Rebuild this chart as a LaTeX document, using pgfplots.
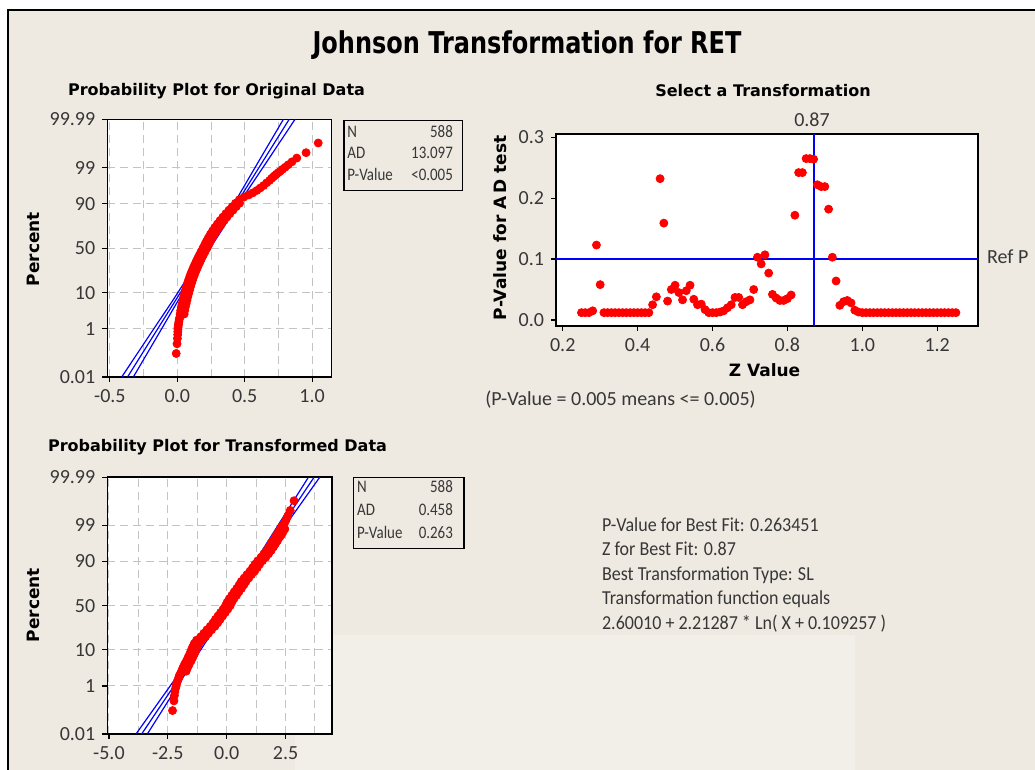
\documentclass[border=0pt]{standalone}
\usepackage{pgfplots}
\pgfplotsset{compat=1.18}
\usepackage{fontspec}
\setmainfont{Carlito}
\newfontfamily\djv{DejaVu Sans}
\newfontfamily\djtitle[FakeStretch=0.8]{DejaVu Sans}
\newfontfamily\cbody[FakeStretch=0.91]{Carlito}
\newfontfamily\cbox[FakeStretch=0.85]{Carlito}
\definecolor{bg}{RGB}{238,234,225}
\definecolor{gridc}{RGB}{195,195,195}
\definecolor{tl}{RGB}{55,55,55}
\definecolor{mred}{RGB}{255,0,0}
\definecolor{mblue}{RGB}{0,0,255}
\pgfplotsset{
 mp/.style={scale only axis, anchor=south west,
   axis line style={black,line width=0.8pt},
   axis background/.style={fill=white},
   tick align=outside, xtick pos=bottom, ytick pos=left,
   major tick length=2.5pt, minor tick length=0pt,
   tick style={black,line width=0.6pt},
   tick label style={font=\fontsize{10}{12}\selectfont, color=tl},
   /pgf/number format/assume math mode=true,
   grid style={gridc, line width=0.5pt, dash pattern=on 4pt off 2.5pt},
   minor grid style={gridc, line width=0.5pt, dash pattern=on 4pt off 2.5pt},
 },
 redpts/.style={only marks, mark=*, mark size=2pt, color=mred, mark options={fill=mred, draw=mred}},
 blu/.style={color=mblue, line width=0.6pt},
}
\begin{document}
\begin{tikzpicture}
\useasboundingbox (0,0) rectangle (517.5pt,385pt);
\fill[white] (0,0) rectangle (517.5pt,385pt);
\fill[bg] (4pt,0) rectangle (517.5pt,380pt);
\fill[white,opacity=0.25] (147.5pt,0) rectangle (427.5pt,67.5pt);
\draw[black,line width=1pt] (4pt,0) -- (4pt,380pt) -- (517.5pt,380pt);

% ---------- top-left: original data ----------
\begin{axis}[mp, at={(53.65pt,196.5pt)}, width=112.2pt, height=128.75pt,
  xmin=-0.519, xmax=1.145, ymin=-3.719, ymax=3.719,
  xtick={-0.5,0,0.5,1}, xticklabels={-0.5,0.0,0.5,1.0},
  minor xtick={-0.25,0.25,0.75},
  ytick={-3.719,-2.326,-1.2816,0,1.2816,2.326,3.719},
  yticklabels={0.01,1,10,50,90,99,99.99},
  xmajorgrids, xminorgrids, ymajorgrids]
\addplot[blu] coordinates {(-0.369,-3.719) (-0.173,-2.5) (-0.012,-1.5) (0.23,0) (0.472,1.5) (0.633,2.5) (0.829,3.719)};
\addplot[blu] coordinates {(-0.412,-3.719) (-0.204,-2.5) (-0.032,-1.5) (0.217,0) (0.452,1.5) (0.602,2.5) (0.786,3.719)};
\addplot[blu] coordinates {(-0.326,-3.719) (-0.142,-2.5) (0.008,-1.5) (0.243,0) (0.492,1.5) (0.664,2.5) (0.872,3.719)};
\addplot[redpts] coordinates {(0.051,-1.9) (0.055,-1.8) (0.060,-1.7) (0.066,-1.6) (0.072,-1.5) (0.078,-1.4) (0.085,-1.3) (0.092,-1.2) (0.099,-1.1) (0.107,-1.0) (0.115,-0.9) (0.124,-0.8) (0.134,-0.7) (0.145,-0.6) (0.156,-0.5) (0.168,-0.4) (0.180,-0.3) (0.193,-0.2) (0.206,-0.1) (0.220,0.0) (0.233,0.1) (0.246,0.2) (0.260,0.3) (0.275,0.4) (0.291,0.5) (0.308,0.6) (0.327,0.7) (0.347,0.8) (0.368,0.9) (0.390,1.0) (0.413,1.1) (0.437,1.2) (0.462,1.3)};
\addplot[redpts] coordinates {(-0.008,-3.04) (-0.002,-2.76) (0.001,-2.605) (0.003,-2.495) (0.004,-2.41) (0.005,-2.34) (0.006,-2.28) (0.008,-2.22) (0.010,-2.17) (0.012,-2.12) (0.015,-2.05) (0.018,-2.0) (0.021,-1.9) (0.025,-1.8) (0.030,-1.7) (0.036,-1.6) (0.042,-1.5) (0.048,-1.4) (0.055,-1.3) (0.062,-1.2) (0.069,-1.1) (0.077,-1.0) (0.085,-0.9) (0.094,-0.8) (0.104,-0.7) (0.115,-0.6) (0.126,-0.5) (0.138,-0.4) (0.150,-0.3) (0.163,-0.2) (0.176,-0.1) (0.190,0.0) (0.203,0.1) (0.216,0.2) (0.230,0.3) (0.245,0.4) (0.261,0.5) (0.278,0.6) (0.297,0.7) (0.317,0.8) (0.338,0.9) (0.360,1.0) (0.383,1.1) (0.407,1.2) (0.432,1.3) (0.460,1.4) (0.495,1.48) (0.530,1.54) (0.560,1.6) (0.590,1.67) (0.615,1.74) (0.640,1.81) (0.663,1.89) (0.685,1.96) (0.700,2.02) (0.712,2.06) (0.723,2.10) (0.735,2.14) (0.748,2.18) (0.762,2.22) (0.780,2.28) (0.800,2.34) (0.822,2.41) (0.850,2.495) (0.886,2.605) (0.955,2.76) (1.045,3.04)};
\end{axis}

% ---------- top-right: select a transformation ----------
\begin{axis}[mp, at={(278pt,222pt)}, width=211pt, height=96pt,
  xmin=0.182, xmax=1.309, ymin=-0.0099, ymax=0.3054,
  xtick={0.2,0.4,0.6,0.8,1.0,1.2}, xticklabels={0.2,0.4,0.6,0.8,1.0,1.2},
  ytick={0,0.1,0.2,0.3}, yticklabels={0.0,0.1,0.2,0.3}]
\addplot[color=mblue, draw=mblue, line width=0.9pt] coordinates {(0.182,0.1) (1.309,0.1)};
\addplot[color=mblue, draw=mblue, line width=0.9pt] coordinates {(0.87,-0.0099) (0.87,0.3054)};
\addplot[redpts] coordinates {(0.25,0.012) (0.26,0.012) (0.27,0.012) (0.28,0.015) (0.29,0.123) (0.30,0.058) (0.31,0.012) (0.32,0.012) (0.33,0.012) (0.34,0.012) (0.35,0.012) (0.36,0.012) (0.37,0.012) (0.38,0.012) (0.39,0.012) (0.40,0.012) (0.41,0.012) (0.42,0.012) (0.43,0.012) (0.44,0.025) (0.45,0.038) (0.46,0.232) (0.47,0.159) (0.48,0.031) (0.49,0.050) (0.50,0.057) (0.51,0.045) (0.52,0.033) (0.53,0.048) (0.54,0.057) (0.55,0.034) (0.56,0.025) (0.57,0.026) (0.58,0.017) (0.59,0.012) (0.60,0.012) (0.61,0.012) (0.62,0.013) (0.63,0.015) (0.64,0.020) (0.65,0.025) (0.66,0.037) (0.67,0.037) (0.68,0.025) (0.69,0.030) (0.70,0.033) (0.71,0.050) (0.72,0.103) (0.73,0.092) (0.74,0.107) (0.75,0.077) (0.76,0.042) (0.77,0.036) (0.78,0.032) (0.79,0.032) (0.80,0.035) (0.81,0.041) (0.82,0.172) (0.83,0.242) (0.84,0.242) (0.85,0.265) (0.86,0.265) (0.87,0.264) (0.88,0.222) (0.89,0.219) (0.90,0.219) (0.91,0.182) (0.92,0.103) (0.93,0.064) (0.94,0.024) (0.95,0.030) (0.96,0.032) (0.97,0.028) (0.98,0.016) (0.99,0.013) (1.00,0.012) (1.01,0.012) (1.02,0.012) (1.03,0.012) (1.04,0.012) (1.05,0.012) (1.06,0.012) (1.07,0.012) (1.08,0.012) (1.09,0.012) (1.10,0.012) (1.11,0.012) (1.12,0.012) (1.13,0.012) (1.14,0.012) (1.15,0.012) (1.16,0.012) (1.17,0.012) (1.18,0.012) (1.19,0.012) (1.20,0.012) (1.21,0.012) (1.22,0.012) (1.23,0.012) (1.24,0.012) (1.25,0.012)};
\end{axis}

% ---------- bottom-left: transformed data ----------
\begin{axis}[mp, at={(53.65pt,18pt)}, width=112.2pt, height=128.35pt,
  xmin=-5.07, xmax=4.46, ymin=-3.719, ymax=3.719,
  xtick={-5,-2.5,0,2.5}, xticklabels={-5.0,-2.5,0.0,2.5},
  minor xtick={-3.75,-1.25,1.25,3.75},
  ytick={-3.719,-2.326,-1.2816,0,1.2816,2.326,3.719},
  yticklabels={0.01,1,10,50,90,99,99.99},
  xmajorgrids, xminorgrids, ymajorgrids]
\addplot[blu] coordinates {(-3.61,-3.719) (-2.41,-2.5) (-1.426,-1.5) (0.05,0) (1.526,1.5) (2.51,2.5) (3.71,3.719)};
\addplot[blu] coordinates {(-3.85,-3.719) (-2.58,-2.5) (-1.536,-1.5) (-0.03,0) (1.416,1.5) (2.34,2.5) (3.47,3.719)};
\addplot[blu] coordinates {(-3.37,-3.719) (-2.24,-2.5) (-1.316,-1.5) (0.13,0) (1.636,1.5) (2.68,2.5) (3.95,3.719)};
\addplot[redpts] coordinates {(-1.72,-1.9) (-1.66,-1.8) (-1.59,-1.7) (-1.51,-1.6) (-1.44,-1.5) (-1.37,-1.4) (-1.31,-1.3) (-1.25,-1.2) (-1.18,-1.1) (-1.08,-1.0) (-0.90,-0.9) (-0.77,-0.8) (-0.64,-0.7) (-0.50,-0.6) (-0.38,-0.5) (-0.28,-0.4) (-0.17,-0.3) (-0.06,-0.2) (0.05,-0.1) (0.15,0.0) (0.22,0.1) (0.31,0.2) (0.42,0.3) (0.52,0.4) (0.63,0.5) (0.73,0.6) (0.82,0.7) (0.94,0.8) (1.06,0.9) (1.19,1.0) (1.30,1.1) (1.40,1.2) (1.52,1.3) (1.66,1.4) (1.78,1.5) (1.89,1.6) (1.99,1.7) (2.08,1.8) (2.16,1.88) (2.26,1.99) (2.32,2.05) (2.39,2.13) (2.47,2.22)};
\addplot[redpts] coordinates {(-2.30,-3.04) (-2.24,-2.76) (-2.22,-2.605) (-2.20,-2.495) (-2.18,-2.41) (-2.15,-2.34) (-2.13,-2.28) (-2.11,-2.22) (-2.08,-2.17) (-2.05,-2.12) (-2.02,-2.05) (-1.99,-2.0) (-1.92,-1.9) (-1.86,-1.8) (-1.79,-1.7) (-1.71,-1.6) (-1.64,-1.5) (-1.57,-1.4) (-1.51,-1.3) (-1.45,-1.2) (-1.38,-1.1) (-1.28,-1.0) (-1.10,-0.9) (-0.97,-0.8) (-0.84,-0.7) (-0.70,-0.6) (-0.58,-0.5) (-0.48,-0.4) (-0.37,-0.3) (-0.26,-0.2) (-0.15,-0.1) (-0.05,0.0) (0.02,0.1) (0.11,0.2) (0.22,0.3) (0.32,0.4) (0.43,0.5) (0.53,0.6) (0.62,0.7) (0.74,0.8) (0.86,0.9) (0.99,1.0) (1.10,1.1) (1.20,1.2) (1.32,1.3) (1.46,1.4) (1.58,1.5) (1.69,1.6) (1.79,1.7) (1.88,1.8) (1.96,1.88) (2.06,1.99) (2.12,2.05) (2.19,2.13) (2.27,2.22) (2.33,2.28) (2.40,2.34) (2.47,2.41) (2.53,2.495) (2.60,2.605) (2.70,2.76) (2.86,3.04)};
\end{axis}

% ---------- texts ----------
\node[font=\djtitle\bfseries\fontsize{15}{15}\selectfont] at (263.5pt,362.5pt) {Johnson Transformation for RET};
\node[font=\djv\bfseries\fontsize{8}{8}\selectfont] at (108.25pt,339.5pt) {Probability Plot for Original Data};
\node[font=\djv\bfseries\fontsize{8}{8}\selectfont] at (381.5pt,339.5pt) {Select a Transformation};
\node[font=\djv\bfseries\fontsize{8}{8}\selectfont] at (108.75pt,161.5pt) {Probability Plot for Transformed Data};
\node[font=\djv\bfseries\fontsize{8.5}{8.5}\selectfont, rotate=90] at (16.85pt,260.4pt) {Percent};
\node[font=\djv\bfseries\fontsize{8.5}{8.5}\selectfont, rotate=90] at (16.85pt,82.5pt) {Percent};
\node[font=\djv\bfseries\fontsize{8.5}{8.5}\selectfont, rotate=90] at (250pt,271.1pt) {P-Value for A\kern1.5pt D test};
\node[font=\djv\bfseries\fontsize{8.5}{8.5}\selectfont] at (382.25pt,200pt) {Z Value};
\node[font=\fontsize{10}{12}\selectfont, color=tl, anchor=west, inner sep=0pt] at (242.5pt,185pt) {(P-Value = 0.005 means <= 0.005)};
\node[font=\fontsize{10}{12}\selectfont, color=tl] at (406pt,325pt) {0.87};
\node[font=\fontsize{10}{12}\selectfont, color=tl, anchor=base west, inner sep=0pt] at (493.35pt,253pt) {Ref P};

% legend boxes
\draw[black, line width=0.75pt] (172pt,289.85pt) rectangle (231.15pt,324.65pt);
\begin{scope}[every node/.style={font=\cbox\fontsize{8.8}{10}\selectfont, color=tl, inner sep=0pt}]
\node[anchor=base west] at (173.5pt,316.4pt) {N};
\node[anchor=base west] at (173.5pt,305.6pt) {AD};
\node[anchor=base west] at (173.5pt,294.75pt) {P-Value};
\node[anchor=base east] at (226.65pt,316.4pt) {588};
\node[anchor=base east] at (226.65pt,305.6pt) {13.097};
\node[anchor=base east] at (226.65pt,294.75pt) {<0.005};
\end{scope}
\draw[black, line width=0.75pt] (176.65pt,110.85pt) rectangle (232pt,146.35pt);
\begin{scope}[every node/.style={font=\cbox\fontsize{8.8}{10}\selectfont, color=tl, inner sep=0pt}]
\node[anchor=base west] at (178.35pt,138.6pt) {N};
\node[anchor=base west] at (178.35pt,127.25pt) {AD};
\node[anchor=base west] at (178.35pt,115.6pt) {P-Value};
\node[anchor=base east] at (226.65pt,138.6pt) {588};
\node[anchor=base east] at (226.65pt,127.25pt) {0.458};
\node[anchor=base east] at (226.65pt,115.6pt) {0.263};
\end{scope}

% info text
\begin{scope}[every node/.style={font=\cbody\fontsize{9.9}{12}\selectfont, color=tl, inner sep=0pt, anchor=base west}]
\node at (300.85pt,119.35pt) {P-Value for Best Fit: 0.263451};
\node at (300.85pt,107.1pt) {Z for Best Fit: 0.87};
\node at (300.85pt,94.85pt) {Best Transformation Type: SL};
\node at (300.85pt,82.6pt) {Transformation function equals};
\node at (300.85pt,70.35pt) {2.60010 + 2.21287 * Ln( X + 0.109257 )};
\end{scope}
\end{tikzpicture}
\end{document}
